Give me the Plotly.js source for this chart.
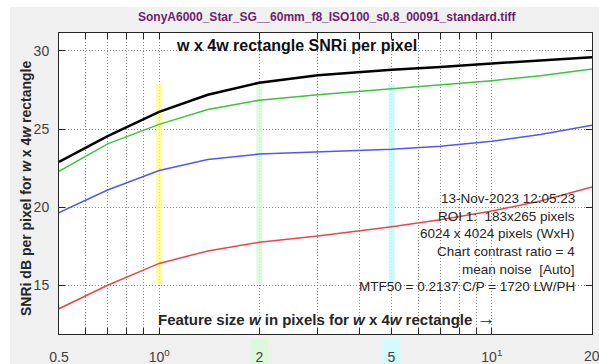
<!DOCTYPE html>
<html>
<head>
<meta charset="utf-8">
<script src="https://cdn.plot.ly/plotly-3.0.1.min.js"></script>
<style>html,body{margin:0;padding:0;background:#fff;}#chart{width:599px;height:364px;}</style>
</head>
<body>
<div id="chart"></div>
<script>
// Feature size w (pixels)
const featureSize = [0.5, 0.7, 1, 1.4, 2, 3, 5, 7, 10, 14, 20];
// SNRi dB per pixel series
const snriBlack = [22.9, 24.55, 26.1, 27.2, 27.97, 28.45, 28.8, 28.97, 29.2, 29.4, 29.6];
const snriGreen = [22.3, 24.05, 25.3, 26.25, 26.85, 27.2, 27.58, 27.82, 28.1, 28.42, 28.85];
const snriBlue  = [19.65, 21.1, 22.35, 23.05, 23.4, 23.55, 23.7, 23.9, 24.22, 24.65, 25.25];
const snriRed   = [13.5, 15.0, 16.4, 17.2, 17.75, 18.15, 18.75, 19.2, 19.75, 20.4, 21.3];
// Highlighted feature sizes and their band extent
const highlightX = [1, 2, 5];
const highlightColors = ['rgba(255,255,120,0.75)', 'rgba(215,250,215,0.8)', 'rgba(190,250,250,0.85)'];
const bandRange = [15.05, 27.9];
// Axis ticks
const xTickVals = [0.5, 1, 10];
const xTickText = ['0.5', '10<sup>0</sup>', '10<sup>1</sup>'];
const xMinorVals = [0.6, 0.7, 0.8, 0.9, 2, 3, 4, 5, 6, 7, 8, 9, 20];
const yTickVals = [15, 20, 25, 30];
const infoLines = [
  '13-Nov-2023 12:05:23',
  'ROI 1:\u00a0\u00a0183x265 pixels',
  '6024 x 4024 pixels (WxH)',
  'Chart contrast ratio = 4',
  'mean noise\u00a0\u00a0[Auto]',
  'MTF50 = 0.2137 C/P = 1720 LW/PH'
];

const W = 599, H = 364, L = 59, R = 592, T = 33, B = 334;
const px = p => (p - L) / (R - L);
const py = q => (B - q) / (B - T);
const FONT = 'Liberation Sans, Arial, sans-serif';
const GRID = '#8e8e8e';

const traces = [];
highlightX.forEach((hx, i) => {
  traces.push({x: [hx, hx], y: bandRange, mode: 'lines', line: {color: highlightColors[i], width: 6}, hoverinfo: 'skip', showlegend: false});
});
const series = [
  [snriRed, '#e8474a', 1.5],
  [snriBlue, '#5555f5', 1.5],
  [snriGreen, '#3cc43c', 1.5],
  [snriBlack, '#000000', 2.5]
];
series.forEach(([ys, c, w]) => traces.push({x: featureSize, y: ys, mode: 'lines', line: {color: c, width: w}, showlegend: false}));

const tickFont = {family: FONT, size: 14, color: '#404040'};
const annotations = [
  {text: 'SonyA6000_Star_SG__60mm_f8_ISO100_s0.8_00091_standard.tiff', xref: 'paper', yref: 'paper', x: px(327), y: py(17), xanchor: 'center', yanchor: 'middle', showarrow: false, font: {family: FONT, size: 12, color: '#6e1e6e', weight: 'bold'}},
  {text: 'w x 4w rectangle SNRi per pixel', xref: 'paper', yref: 'paper', x: px(296), y: py(45), xanchor: 'center', yanchor: 'middle', showarrow: false, font: {family: FONT, size: 16, color: '#111', weight: 'bold'}},
  {text: 'Feature size <i>w</i> in pixels for <i>w</i> x 4<i>w</i> rectangle <span style="font-weight:normal;font-size:19px">\u2192</span>', xref: 'paper', yref: 'paper', x: px(326), y: py(318), xanchor: 'center', yanchor: 'middle', showarrow: false, font: {family: FONT, size: 15, color: '#262626', weight: 'bold'}},
  {text: 'SNRi dB per pixel for <i>w</i> x 4<i>w</i> rectangle', xref: 'paper', yref: 'paper', x: px(26), y: py(189), xanchor: 'center', yanchor: 'middle', textangle: -90, showarrow: false, font: {family: FONT, size: 14, color: '#262626', weight: 'bold'}},
  {text: '2', xref: 'x', yref: 'paper', x: Math.log10(2), y: py(338), xanchor: 'center', yanchor: 'top', width: 17, height: 26, valign: 'bottom', showarrow: false, bgcolor: '#dcf9dc', borderpad: 0, font: tickFont},
  {text: '5', xref: 'x', yref: 'paper', x: Math.log10(5), y: py(338), xanchor: 'center', yanchor: 'top', width: 17, height: 26, valign: 'bottom', showarrow: false, bgcolor: '#d2fbfb', borderpad: 0, font: tickFont},
  {text: '20', xref: 'x', yref: 'paper', x: Math.log10(20), y: py(356), xanchor: 'center', yanchor: 'middle', showarrow: false, font: tickFont}
];
infoLines.forEach((t, i) => annotations.push({text: t, xref: 'paper', yref: 'paper', x: px(577), y: py(198.3 + 17.7 * i), xanchor: 'right', yanchor: 'middle', showarrow: false, font: {family: FONT, size: 13.5, color: '#262626'}}));

const layout = {
  width: W, height: H,
  margin: {l: L, r: W - R, t: T, b: H - B, pad: 0},
  paper_bgcolor: '#f0f0f0', plot_bgcolor: '#ffffff',
  showlegend: false,
  font: {family: FONT},
  xaxis: {
    type: 'log', range: [Math.log10(0.5), Math.log10(20)],
    tickmode: 'array', tickvals: xTickVals, ticktext: xTickText,
    ticks: 'inside', ticklen: 6, tickcolor: '#262626', mirror: 'ticks',
    showline: true, linecolor: '#262626', linewidth: 1,
    showgrid: true, gridcolor: GRID, griddash: '1px,2px', gridwidth: 1,
    minor: {tickmode: 'array', tickvals: xMinorVals, ticks: 'inside', ticklen: 6, tickcolor: '#262626', showgrid: true, gridcolor: GRID, griddash: '1px,2px', gridwidth: 1},
    zeroline: false, ticklabelstandoff: 10,
    tickfont: tickFont
  },
  yaxis: {
    range: [11.88, 31.15],
    tickmode: 'array', tickvals: yTickVals,
    ticks: 'inside', ticklen: 6, tickcolor: '#262626', mirror: 'ticks',
    showline: true, linecolor: '#262626', linewidth: 1,
    showgrid: true, gridcolor: GRID, griddash: '1px,2px', gridwidth: 1,
    zeroline: false, ticklabelstandoff: 6,
    tickfont: tickFont
  },
  shapes: [
    {type: 'rect', xref: 'paper', yref: 'paper', x0: px(0), x1: px(10), y0: py(H), y1: py(0), fillcolor: '#ffffff', line: {width: 0}, layer: 'below'},
    {type: 'rect', xref: 'paper', yref: 'paper', x0: px(0), x1: px(W), y0: py(7), y1: py(0), fillcolor: '#ffffff', line: {width: 0}, layer: 'below'}
  ],
  annotations: annotations
};

Plotly.newPlot('chart', traces, layout, {staticPlot: true, displayModeBar: false});
</script>
</body>
</html>
